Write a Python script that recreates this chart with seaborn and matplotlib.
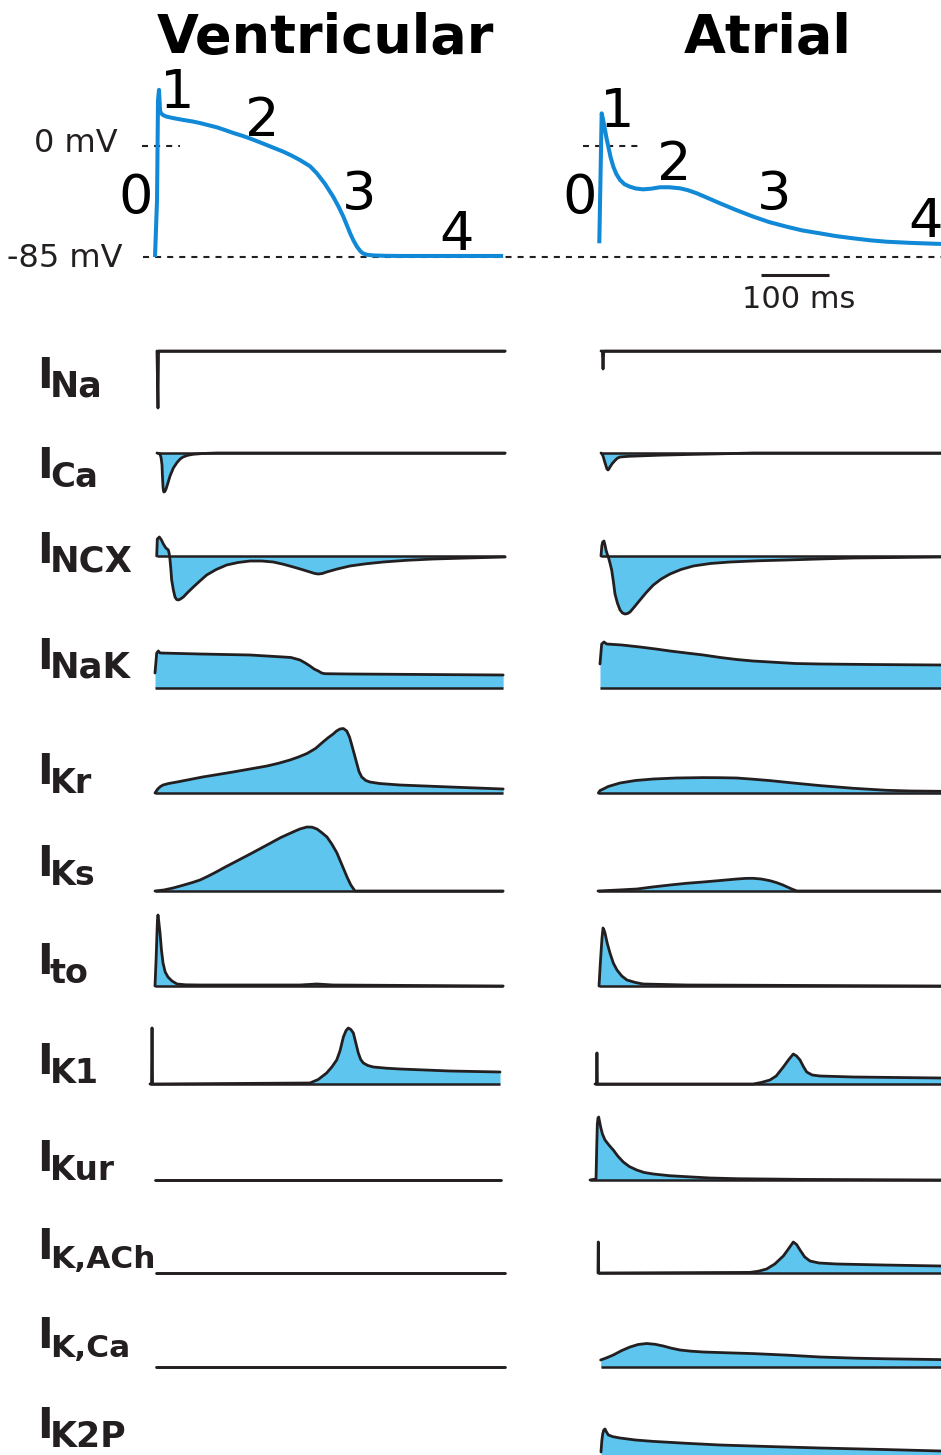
import matplotlib
matplotlib.use("Agg")
import matplotlib.pyplot as plt
import seaborn as sns

sns.set_theme(style="white")
plt.rcParams['font.family'] = ['DejaVu Sans']

W, H = 941, 1455
PX_PER_MS = 0.68          # horizontal scale of every trace
PX_PER_MV = 111 / 85      # vertical scale of the action potentials

AP_BLUE = '#1189d6'
FILL = '#5ec5ef'
INK = '#231f20'

# ---- action potentials (time in ms, membrane potential in mV) ----
vent_ap_t = [0, 3, 4.4, 5.9, 7.4, 9, 11.8, 17, 26.5, 41, 55, 66, 78, 91, 103, 115, 128, 140,
             152, 164, 176, 189, 201, 213, 228, 238, 250, 262, 270, 277, 282, 287, 292,
             297, 302, 306, 312, 321, 340, 360, 512]
vent_ap_v = [-85, -41, 35, 43, 27, 25, 23.7, 22.5, 21.4, 20, 18.8, 17.6, 16, 14.3, 12.2, 10,
             7.9, 5.7, 3.3, 0.8, -1.7, -4.4, -7.4, -10.7, -15.5, -20.9, -29, -38.8, -46.5,
             -54.1, -60.5, -66.9, -72.5, -77.1, -80.5, -82.3, -83.3, -83.8, -84.1, -84.2,
             -84.2]
atr_ap_t = [1.9, 5.4, 7.5, 10.3, 12.7, 15.2, 18.5, 22.5, 27, 32.4, 39, 47.1, 56, 66.6, 78,
            91.2, 105, 120.6, 132, 145.1, 160, 179.4, 203, 228.4, 252, 277.5, 300, 326.5,
            350, 375.5, 400, 424.5, 460, 504.4]
atr_ap_v = [-74.5, 25, 20, 12.3, 5.5, -0.5, -8.5, -15.8, -21.5, -26, -29.3, -31.2, -32.6,
            -33.2, -32.7, -31.6, -31.6, -32.4, -33.8, -36.2, -39.5, -43.9, -49, -54.1,
            -58.3, -61.8, -64.6, -66.9, -69, -70.7, -72.2, -73.3, -74.2, -75]

phase_names = ['0', '1', '2', '3', '4']
vent_phase_t = [-28, 32, 157, 300, 444]
vent_phase_v = [-51, 29, 8, -49, -80]
atr_phase_t = [-27, 29, 112, 259, 481]
atr_phase_v = [-51, 14.5, -26, -49, -70]

# ---- ionic currents (time in ms, current in a.u., outward up) ----
currents = ['Na', 'Ca', 'NCX', 'NaK', 'Kr', 'Ks', 'to', 'K1', 'Kur', 'K,ACh', 'K,Ca', 'K2P']
label_sizes = [25, 24.5, 25.5, 25.5, 24, 24, 24, 24, 23.5, 22.5, 22.5, 25]

v_na_t = [2.9, 4.4, 5.2, 515]
v_na_v = [0, -57, 0, 0]
v_ca_t = [2.9, 5.5, 7.4, 9, 10.3, 11, 11.8, 12.5, 13.2, 14.5, 16.2, 19, 22.1, 27, 32.4,
          37, 41.2, 48, 55.9, 70, 91.2, 515]
v_ca_v = [0, -0.5, -1, -5, -12, -24, -34, -38, -39, -38.5, -36, -30, -23, -15, -9.5,
          -6, -4, -2.3, -1.3, -0.5, 0, 0]
v_ncx_t = [2.5, 3.4, 6.4, 9.5, 12.3, 16, 19.6, 21, 22.1, 23.3, 24.5, 27, 29.4, 31.8, 34.3,
           37.5, 41.7, 48, 56.4, 66, 76, 90, 105.4, 122, 139.7, 157, 174, 189, 203.4, 216,
           227.9, 235, 240.2, 246, 252.4, 268, 286.7, 310, 335.7, 370, 409.2, 460, 515]
v_ncx_v = [0, 17, 19, 16, 12, 8, 6, 2, -4, -13, -24, -34, -41, -43.5, -44, -43, -41, -36.5,
           -31, -25, -19, -13.5, -9, -6.5, -5, -5, -6, -8.3, -11, -13.5, -16, -17.5, -18,
           -17.5, -16, -13, -10, -7.8, -6, -4.3, -3, -2, -1]
v_nak_t = [0, 2.5, 4.9, 7.4, 66.2, 139.7, 188.7, 200, 213.2, 221, 227.9, 234, 240.2, 245,
           250, 286.7, 512]
v_nak_v = [15, 35, 37, 35, 34, 33, 31, 30.5, 28, 25, 22, 19, 17, 15, 14.3, 14, 13]
v_kr_t = [0, 4, 8, 11.8, 20, 32.4, 70, 114.7, 164.7, 182, 198.5, 211, 223.5, 236, 247, 255,
          262, 267, 272, 277, 282, 286, 289, 293, 297, 300, 304, 310, 316, 330, 360, 434,
          512]
v_kr_v = [0, 4, 6.5, 8, 9.5, 11, 16, 21, 27, 29.8, 33, 36, 39.5, 44.5, 51, 55.5, 59, 62, 64,
          64.5, 62, 56, 49, 39, 29, 21.5, 16, 12.5, 11, 9.5, 8, 6, 4]
v_ks_t = [0, 13, 26.5, 40, 55, 66.2, 78, 90, 102, 114.7, 140, 164.7, 185, 202.9, 213,
          223.5, 231, 238.2, 245, 252.9, 260, 267.6, 275, 282.4, 288, 294.1, 512]
v_ks_v = [0, 1, 3, 5.5, 8.5, 11, 14.8, 19, 23.5, 28, 37, 46, 53.5, 59, 62, 64, 63.8, 62,
          58.5, 54, 47, 38, 26, 14, 6, 0, 0]
v_to_t = [0, 1.8, 2.9, 3.6, 4.4, 5.3, 7.4, 9.5, 11.8, 15, 19.1, 25, 32.4, 45, 66.2, 213.2,
          238.2, 261.8, 512]
v_to_v = [0, 30, 53, 66, 71, 66, 53, 36, 23, 14, 9, 5, 2, 1.2, 1, 1, 2, 1, 0]
v_k1_t = [-7.4, -5.1, -4.6, -4.1, -3.6, 227.9, 240, 252.4, 260, 267.2, 272, 277, 281,
          284.3, 288, 291.7, 295, 299, 302.5, 306.4, 313, 321.1, 340, 360.3, 433.8, 507.4]
v_k1_v = [0, 0, 56, 56, 0, 1, 4.5, 11, 17, 24, 33, 47, 53.5, 56, 54.5, 51, 42, 31, 24.5,
          21, 18.5, 17, 15.8, 15, 13, 12]
v_kur_t = [0, 509]
v_kur_v = [0, 0]
v_kach_t = [1.5, 515]
v_kach_v = [0, 0]
v_kca_t = [1.5, 515]
v_kca_v = [0, 0]
v_k2p_t = []
v_k2p_v = []

a_na_t = [4.4, 6.4, 7.4, 8.4, 504.4]
a_na_v = [0, 0, -18, 0, 0]
a_ca_t = [4.4, 5.9, 7.4, 9.5, 11.8, 13.2, 14.7, 16, 17.6, 21, 25, 28.5, 32.4, 45, 57.4, 90,
          130.9, 180, 228, 504.4]
a_ca_v = [0, -1, -3, -8, -13, -16, -17, -16, -14, -10.5, -7.5, -5.2, -4, -3.3, -3, -2.2,
          -1.5, -0.8, 0, 0]
a_ncx_t = [4.4, 5.6, 6.9, 8.8, 10.3, 11.8, 13.5, 15.2, 17.6, 20.1, 22.5, 25, 28.5, 32.4, 36,
           39.7, 43.5, 47.1, 54, 61.8, 71, 81.4, 93, 105.9, 122, 140.2, 165, 194.1, 235,
           277.5, 325, 375.5, 440, 504.4]
a_ncx_v = [0, 10, 14, 15, 11, 6, 2, -1, -7, -14, -25, -38, -47, -54, -57, -58, -57.5, -56,
           -50.5, -44, -36.5, -29, -23, -18, -13.5, -10, -7.5, -6, -4.8, -4, -3, -2, -1.5, -1]
a_nak_t = [2.9, 5.4, 8.8, 12.7, 35, 61.8, 85, 105.9, 130, 154.9, 180, 203.9, 228, 252.9,
           290, 326.5, 400, 504.4]
a_nak_v = [24, 44, 46, 44, 43, 41, 39, 37, 35, 33, 30.5, 28.5, 27, 26, 24.5, 24, 23.5, 23]
a_kr_t = [0.5, 3, 7.8, 15, 32.4, 55, 81.3, 115, 154.9, 180, 203.9, 228, 252.9, 290, 326.5,
          375.5, 424.5, 460, 504.4]
a_kr_v = [0, 2.5, 4, 6.5, 10, 12.5, 14, 15, 15.4, 15.3, 15, 13.8, 12.4, 9.8, 7.4, 4.7, 2.7,
          2, 1.7]
a_ks_t = [0, 30, 57.4, 80, 105.9, 130, 154.4, 180, 204.4, 217, 227.9, 240, 252.9, 262, 272,
          280, 286.7, 292.6, 504.4]
a_ks_v = [0, 1, 2, 4, 6, 7.7, 9, 10.5, 12, 12.6, 12.7, 12, 10.3, 8.5, 6, 3.5, 1.5, 0, 0]
a_to_t = [1.5, 3, 4.4, 5.9, 7.4, 8.8, 10.3, 13.5, 17.6, 22.5, 27.9, 35, 42.6, 55, 66.2,
          130.9, 504.4]
a_to_v = [0, 18, 33, 48, 58, 56, 53, 43, 33, 23, 16, 10, 6, 3.5, 2, 1, 0]
a_k1_t = [-4.4, -2.2, -1.8, -1.3, -0.9, 228.4, 240, 252.9, 262, 272.5, 280, 287.2, 292,
          297.1, 302, 306.9, 315, 326.5, 375.5, 504.4]
a_k1_v = [0, 0, 31, 31, 0, 0, 1.5, 4, 8, 17, 24, 30, 28, 24, 17.5, 12, 9, 8, 7, 6]
a_kur_t = [-11.8, -2.9, -1.8, -1, 0, 1, 2.4, 3.9, 6.5, 10.3, 16, 22.5, 29, 37.2, 46, 56.9,
           68, 81.3, 105, 130.4, 165, 204, 300, 504.4]
a_kur_v = [0, 1, 35, 56, 62, 63, 58, 53, 46, 40, 35, 30, 24, 18, 13.5, 10, 7.5, 6, 4.3,
           3.3, 2, 1.3, 0.6, 0]
a_kach_t = [0, 0.3, 0.6, 1, 223.5, 236, 248, 260, 272.5, 280, 287.2, 292, 297.1, 304,
            311.8, 325, 351, 420, 504.4]
a_kach_v = [0, 31, 31, 0, 0.6, 1.8, 4, 9, 17, 24, 31, 28.5, 23, 16, 12, 10, 9, 8, 7]
a_kca_t = [3.9, 12, 22.5, 35, 47.1, 59, 71.6, 84, 96, 108, 120.6, 137, 154.9, 190, 228.4,
           280, 326.5, 380, 424.5, 504.4]
a_kca_v = [7, 9, 12, 16.5, 20, 22.5, 23.5, 22.7, 21, 18.8, 17, 15.8, 15, 14.2, 13.4, 11.8,
           10, 8.8, 8.2, 7.4]
a_k2p_t = [4.4, 5.6, 6.9, 8.5, 10.3, 12.5, 15.2, 22, 32.4, 55, 81.3, 130, 179.4, 250,
           326.5, 420, 504.4]
a_k2p_v = [3, 14, 21, 25, 26, 23, 20, 18.3, 17, 15, 13.6, 11.7, 10, 8.5, 7, 5.5, 4]

vent = dict(zip(currents, [
    (v_na_t, v_na_v), (v_ca_t, v_ca_v), (v_ncx_t, v_ncx_v), (v_nak_t, v_nak_v),
    (v_kr_t, v_kr_v), (v_ks_t, v_ks_v), (v_to_t, v_to_v), (v_k1_t, v_k1_v),
    (v_kur_t, v_kur_v), (v_kach_t, v_kach_v), (v_kca_t, v_kca_v), (v_k2p_t, v_k2p_v)]))
atr = dict(zip(currents, [
    (a_na_t, a_na_v), (a_ca_t, a_ca_v), (a_ncx_t, a_ncx_v), (a_nak_t, a_nak_v),
    (a_kr_t, a_kr_v), (a_ks_t, a_ks_v), (a_to_t, a_to_v), (a_k1_t, a_k1_v),
    (a_kur_t, a_kur_v), (a_kach_t, a_kach_v), (a_kca_t, a_kca_v), (a_k2p_t, a_k2p_v)]))

# layout (pixels)
COLS = {'vent': (140, 515, 155), 'atr': (580, 941, 598)}   # left, right, time origin
ROW_BASE = [351, 453, 556, 688, 793, 891, 986, 1084, 1180, 1273, 1367, 1455]
LABEL_BASE = [397, 487, 572, 678, 793, 885, 983, 1083, 1180, 1268, 1357, 1447]

fig = plt.figure(figsize=(W / 100, H / 100), dpi=100)


def col_axes(col, y_top, y_bot):
    x0, x1, origin = COLS[col]
    ax = fig.add_axes([x0 / W, 1 - y_bot / H, (x1 - x0) / W, (y_bot - y_top) / H])
    ax.set_axis_off()
    return ax, ((x0 - origin) / PX_PER_MS, (x1 - origin) / PX_PER_MS)


def px_text(x, y, s, **kw):
    fig.text(x / W, 1 - y / H, s, va='baseline', **kw)


# ---- action potential panels ----
ap_lim = (-(330 - 146) / PX_PER_MV, (146 - 60) / PX_PER_MV)
for col, t, v, pt, pv in [('vent', vent_ap_t, vent_ap_v, vent_phase_t, vent_phase_v),
                          ('atr', atr_ap_t, atr_ap_v, atr_phase_t, atr_phase_v)]:
    ax, xlim = col_axes(col, 60, 330)
    sns.lineplot(x=t, y=v, ax=ax, color=AP_BLUE, lw=2.9, sort=False, estimator=None,
                 legend=False, zorder=3, solid_joinstyle='round', solid_capstyle='butt')
    for name, x, y in zip(phase_names, pt, pv):
        ax.text(x, y, name, fontsize=39, color='black', ha='center', va='baseline')
    ax.set_xlim(xlim)
    ax.set_ylim(ap_lim)
    if col == 'vent':
        ax.plot([-19, 37], [0, 0], color=INK, lw=1.5, ls=(0, (2.9, 2.9)))
        ax.plot([-17.6, 1156], [-85, -85], color=INK, lw=1.5, ls=(0, (2.9, 2.9)),
                clip_on=False)
    else:
        ax.plot([-22, 62], [0, 0], color=INK, lw=1.5, ls=(0, (2.9, 2.9)))
        # 100 ms scale bar
        ax.plot([240, 340], [-98.8, -98.8], color=INK, lw=2.2, solid_capstyle='butt')

px_text(325, 53, 'Ventricular', fontsize=39, fontweight='bold', color='black', ha='center')
px_text(768, 53, 'Atrial', fontsize=39, fontweight='bold', color='black', ha='center')
px_text(118, 152, '0 mV', fontsize=23, color=INK, ha='right')
px_text(122, 267, '-85 mV', fontsize=23, color=INK, ha='right')
px_text(799, 308, '100 ms', fontsize=22, color=INK, ha='center')

# ---- current panels ----
for i, name in enumerate(currents):
    base = ROW_BASE[i]
    for col, data in [('vent', vent), ('atr', atr)]:
        t, v = data[name]
        if not t:
            continue
        ax, xlim = col_axes(col, base - 90, base + 70)
        ax.fill_between(t, v, 0, color=FILL, lw=0, zorder=1)
        if name != 'K2P':
            ax.hlines(0, t[0], t[-1], color=INK, lw=1.8, zorder=2)
        sns.lineplot(x=t, y=v, ax=ax, color=INK, lw=2, sort=False, estimator=None,
                     legend=False, zorder=3, solid_joinstyle='round')
        ax.set_xlim(xlim)
        ax.set_ylim(-70, 90)
    lb = LABEL_BASE[i]
    px_text(37, lb - 9, 'I', fontsize=30, fontweight='bold', color=INK, ha='left')
    px_text(50, lb, name, fontsize=label_sizes[i], fontweight='bold', color=INK, ha='left')

fig.savefig('out.png', dpi=100, facecolor='white')
